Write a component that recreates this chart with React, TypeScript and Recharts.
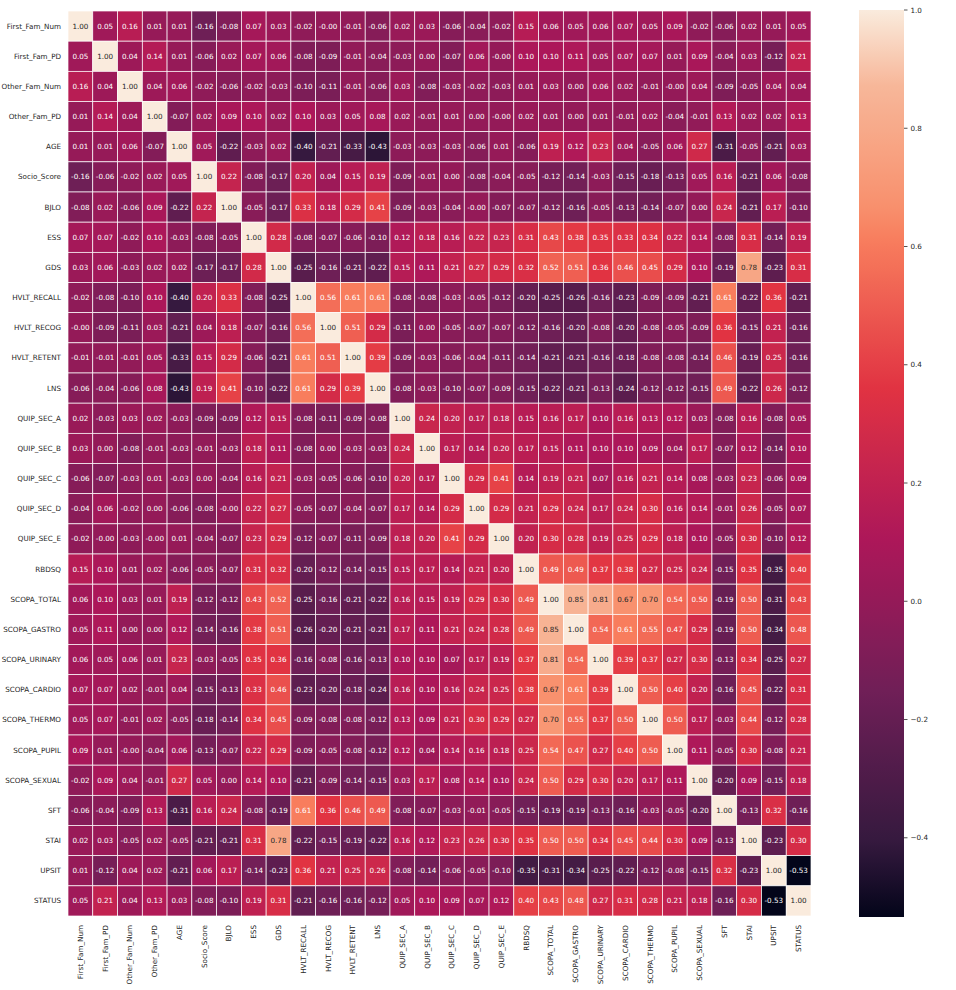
import { ScatterChart, Scatter, XAxis, YAxis, BarChart, Bar } from 'recharts';

const labels = [
  'First_Fam_Num', 'First_Fam_PD', 'Other_Fam_Num', 'Other_Fam_PD', 'AGE', 'Socio_Score', 'BJLO',
  'ESS', 'GDS', 'HVLT_RECALL', 'HVLT_RECOG', 'HVLT_RETENT', 'LNS', 'QUIP_SEC_A', 'QUIP_SEC_B',
  'QUIP_SEC_C', 'QUIP_SEC_D', 'QUIP_SEC_E', 'RBDSQ', 'SCOPA_TOTAL', 'SCOPA_GASTRO', 'SCOPA_URINARY',
  'SCOPA_CARDIO', 'SCOPA_THERMO', 'SCOPA_PUPIL', 'SCOPA_SEXUAL', 'SFT', 'STAI', 'UPSIT', 'STATUS',
];

// correlation rows (-0.001 keeps the "-0.00" labels)
const corr: number[][] = [
  [1.00, 0.05, 0.16, 0.01, 0.01, -0.16, -0.08, 0.07, 0.03, -0.02, -0.001, -0.01, -0.06, 0.02, 0.03, -0.06, -0.04, -0.02, 0.15, 0.06, 0.05, 0.06, 0.07, 0.05, 0.09, -0.02, -0.06, 0.02, 0.01, 0.05],
  [0.05, 1.00, 0.04, 0.14, 0.01, -0.06, 0.02, 0.07, 0.06, -0.08, -0.09, -0.01, -0.04, -0.03, 0.00, -0.07, 0.06, -0.001, 0.10, 0.10, 0.11, 0.05, 0.07, 0.07, 0.01, 0.09, -0.04, 0.03, -0.12, 0.21],
  [0.16, 0.04, 1.00, 0.04, 0.06, -0.02, -0.06, -0.02, -0.03, -0.10, -0.11, -0.01, -0.06, 0.03, -0.08, -0.03, -0.02, -0.03, 0.01, 0.03, 0.00, 0.06, 0.02, -0.01, -0.001, 0.04, -0.09, -0.05, 0.04, 0.04],
  [0.01, 0.14, 0.04, 1.00, -0.07, 0.02, 0.09, 0.10, 0.02, 0.10, 0.03, 0.05, 0.08, 0.02, -0.01, 0.01, 0.00, -0.001, 0.02, 0.01, 0.00, 0.01, -0.01, 0.02, -0.04, -0.01, 0.13, 0.02, 0.02, 0.13],
  [0.01, 0.01, 0.06, -0.07, 1.00, 0.05, -0.22, -0.03, 0.02, -0.40, -0.21, -0.33, -0.43, -0.03, -0.03, -0.03, -0.06, 0.01, -0.06, 0.19, 0.12, 0.23, 0.04, -0.05, 0.06, 0.27, -0.31, -0.05, -0.21, 0.03],
  [-0.16, -0.06, -0.02, 0.02, 0.05, 1.00, 0.22, -0.08, -0.17, 0.20, 0.04, 0.15, 0.19, -0.09, -0.01, 0.00, -0.08, -0.04, -0.05, -0.12, -0.14, -0.03, -0.15, -0.18, -0.13, 0.05, 0.16, -0.21, 0.06, -0.08],
  [-0.08, 0.02, -0.06, 0.09, -0.22, 0.22, 1.00, -0.05, -0.17, 0.33, 0.18, 0.29, 0.41, -0.09, -0.03, -0.04, -0.001, -0.07, -0.07, -0.12, -0.16, -0.05, -0.13, -0.14, -0.07, 0.00, 0.24, -0.21, 0.17, -0.10],
  [0.07, 0.07, -0.02, 0.10, -0.03, -0.08, -0.05, 1.00, 0.28, -0.08, -0.07, -0.06, -0.10, 0.12, 0.18, 0.16, 0.22, 0.23, 0.31, 0.43, 0.38, 0.35, 0.33, 0.34, 0.22, 0.14, -0.08, 0.31, -0.14, 0.19],
  [0.03, 0.06, -0.03, 0.02, 0.02, -0.17, -0.17, 0.28, 1.00, -0.25, -0.16, -0.21, -0.22, 0.15, 0.11, 0.21, 0.27, 0.29, 0.32, 0.52, 0.51, 0.36, 0.46, 0.45, 0.29, 0.10, -0.19, 0.78, -0.23, 0.31],
  [-0.02, -0.08, -0.10, 0.10, -0.40, 0.20, 0.33, -0.08, -0.25, 1.00, 0.56, 0.61, 0.61, -0.08, -0.08, -0.03, -0.05, -0.12, -0.20, -0.25, -0.26, -0.16, -0.23, -0.09, -0.09, -0.21, 0.61, -0.22, 0.36, -0.21],
  [-0.001, -0.09, -0.11, 0.03, -0.21, 0.04, 0.18, -0.07, -0.16, 0.56, 1.00, 0.51, 0.29, -0.11, 0.00, -0.05, -0.07, -0.07, -0.12, -0.16, -0.20, -0.08, -0.20, -0.08, -0.05, -0.09, 0.36, -0.15, 0.21, -0.16],
  [-0.01, -0.01, -0.01, 0.05, -0.33, 0.15, 0.29, -0.06, -0.21, 0.61, 0.51, 1.00, 0.39, -0.09, -0.03, -0.06, -0.04, -0.11, -0.14, -0.21, -0.21, -0.16, -0.18, -0.08, -0.08, -0.14, 0.46, -0.19, 0.25, -0.16],
  [-0.06, -0.04, -0.06, 0.08, -0.43, 0.19, 0.41, -0.10, -0.22, 0.61, 0.29, 0.39, 1.00, -0.08, -0.03, -0.10, -0.07, -0.09, -0.15, -0.22, -0.21, -0.13, -0.24, -0.12, -0.12, -0.15, 0.49, -0.22, 0.26, -0.12],
  [0.02, -0.03, 0.03, 0.02, -0.03, -0.09, -0.09, 0.12, 0.15, -0.08, -0.11, -0.09, -0.08, 1.00, 0.24, 0.20, 0.17, 0.18, 0.15, 0.16, 0.17, 0.10, 0.16, 0.13, 0.12, 0.03, -0.08, 0.16, -0.08, 0.05],
  [0.03, 0.00, -0.08, -0.01, -0.03, -0.01, -0.03, 0.18, 0.11, -0.08, 0.00, -0.03, -0.03, 0.24, 1.00, 0.17, 0.14, 0.20, 0.17, 0.15, 0.11, 0.10, 0.10, 0.09, 0.04, 0.17, -0.07, 0.12, -0.14, 0.10],
  [-0.06, -0.07, -0.03, 0.01, -0.03, 0.00, -0.04, 0.16, 0.21, -0.03, -0.05, -0.06, -0.10, 0.20, 0.17, 1.00, 0.29, 0.41, 0.14, 0.19, 0.21, 0.07, 0.16, 0.21, 0.14, 0.08, -0.03, 0.23, -0.06, 0.09],
  [-0.04, 0.06, -0.02, 0.00, -0.06, -0.08, -0.001, 0.22, 0.27, -0.05, -0.07, -0.04, -0.07, 0.17, 0.14, 0.29, 1.00, 0.29, 0.21, 0.29, 0.24, 0.17, 0.24, 0.30, 0.16, 0.14, -0.01, 0.26, -0.05, 0.07],
  [-0.02, -0.001, -0.03, -0.001, 0.01, -0.04, -0.07, 0.23, 0.29, -0.12, -0.07, -0.11, -0.09, 0.18, 0.20, 0.41, 0.29, 1.00, 0.20, 0.30, 0.28, 0.19, 0.25, 0.29, 0.18, 0.10, -0.05, 0.30, -0.10, 0.12],
  [0.15, 0.10, 0.01, 0.02, -0.06, -0.05, -0.07, 0.31, 0.32, -0.20, -0.12, -0.14, -0.15, 0.15, 0.17, 0.14, 0.21, 0.20, 1.00, 0.49, 0.49, 0.37, 0.38, 0.27, 0.25, 0.24, -0.15, 0.35, -0.35, 0.40],
  [0.06, 0.10, 0.03, 0.01, 0.19, -0.12, -0.12, 0.43, 0.52, -0.25, -0.16, -0.21, -0.22, 0.16, 0.15, 0.19, 0.29, 0.30, 0.49, 1.00, 0.85, 0.81, 0.67, 0.70, 0.54, 0.50, -0.19, 0.50, -0.31, 0.43],
  [0.05, 0.11, 0.00, 0.00, 0.12, -0.14, -0.16, 0.38, 0.51, -0.26, -0.20, -0.21, -0.21, 0.17, 0.11, 0.21, 0.24, 0.28, 0.49, 0.85, 1.00, 0.54, 0.61, 0.55, 0.47, 0.29, -0.19, 0.50, -0.34, 0.48],
  [0.06, 0.05, 0.06, 0.01, 0.23, -0.03, -0.05, 0.35, 0.36, -0.16, -0.08, -0.16, -0.13, 0.10, 0.10, 0.07, 0.17, 0.19, 0.37, 0.81, 0.54, 1.00, 0.39, 0.37, 0.27, 0.30, -0.13, 0.34, -0.25, 0.27],
  [0.07, 0.07, 0.02, -0.01, 0.04, -0.15, -0.13, 0.33, 0.46, -0.23, -0.20, -0.18, -0.24, 0.16, 0.10, 0.16, 0.24, 0.25, 0.38, 0.67, 0.61, 0.39, 1.00, 0.50, 0.40, 0.20, -0.16, 0.45, -0.22, 0.31],
  [0.05, 0.07, -0.01, 0.02, -0.05, -0.18, -0.14, 0.34, 0.45, -0.09, -0.08, -0.08, -0.12, 0.13, 0.09, 0.21, 0.30, 0.29, 0.27, 0.70, 0.55, 0.37, 0.50, 1.00, 0.50, 0.17, -0.03, 0.44, -0.12, 0.28],
  [0.09, 0.01, -0.001, -0.04, 0.06, -0.13, -0.07, 0.22, 0.29, -0.09, -0.05, -0.08, -0.12, 0.12, 0.04, 0.14, 0.16, 0.18, 0.25, 0.54, 0.47, 0.27, 0.40, 0.50, 1.00, 0.11, -0.05, 0.30, -0.08, 0.21],
  [-0.02, 0.09, 0.04, -0.01, 0.27, 0.05, 0.00, 0.14, 0.10, -0.21, -0.09, -0.14, -0.15, 0.03, 0.17, 0.08, 0.14, 0.10, 0.24, 0.50, 0.29, 0.30, 0.20, 0.17, 0.11, 1.00, -0.20, 0.09, -0.15, 0.18],
  [-0.06, -0.04, -0.09, 0.13, -0.31, 0.16, 0.24, -0.08, -0.19, 0.61, 0.36, 0.46, 0.49, -0.08, -0.07, -0.03, -0.01, -0.05, -0.15, -0.19, -0.19, -0.13, -0.16, -0.03, -0.05, -0.20, 1.00, -0.13, 0.32, -0.16],
  [0.02, 0.03, -0.05, 0.02, -0.05, -0.21, -0.21, 0.31, 0.78, -0.22, -0.15, -0.19, -0.22, 0.16, 0.12, 0.23, 0.26, 0.30, 0.35, 0.50, 0.50, 0.34, 0.45, 0.44, 0.30, 0.09, -0.13, 1.00, -0.23, 0.30],
  [0.01, -0.12, 0.04, 0.02, -0.21, 0.06, 0.17, -0.14, -0.23, 0.36, 0.21, 0.25, 0.26, -0.08, -0.14, -0.06, -0.05, -0.10, -0.35, -0.31, -0.34, -0.25, -0.22, -0.12, -0.08, -0.15, 0.32, -0.23, 1.00, -0.534],
  [0.05, 0.21, 0.04, 0.13, 0.03, -0.08, -0.10, 0.19, 0.31, -0.21, -0.16, -0.16, -0.12, 0.05, 0.10, 0.09, 0.07, 0.12, 0.40, 0.43, 0.48, 0.27, 0.31, 0.28, 0.21, 0.18, -0.16, 0.30, -0.534, 1.00],
];

const cbTicks = [-0.4, -0.2, 0.0, 0.2, 0.4, 0.6, 0.8, 1.0];

// seaborn "rocket" colormap, sampled (upper end tuned to the picture)
const rocket: [number, string][] = [
  [0, '#03051a'],
  [1 / 12, '#35193e'],
  [3 / 12, '#701f57'],
  [5 / 12, '#ad1759'],
  [7 / 12, '#e13342'],
  [0.746, '#f87d5d'],
  [0.785, '#f8916e'],
  [11 / 12, '#f7b799'],
  [1, '#faebdd'],
];

const VMIN = Math.min(...corr.flat());
const VMAX = 1;

const FONT = 'DejaVu Sans, sans-serif';
const W = 830;
const H = 990;
const M = { top: 11, right: 19 };
const YW = 68;
const XH = 74;
const CELL_W = (W - YW - M.right) / labels.length;
const CELL_H = (H - M.top - XH) / labels.length;

const hex = (s: string) => [1, 3, 5].map((i) => parseInt(s.slice(i, i + 2), 16));

function colorAt(t: number): number[] {
  t = Math.max(0, Math.min(1, t));
  for (let i = 1; i < rocket.length; i++) {
    if (t <= rocket[i][0]) {
      const [t0, c0] = rocket[i - 1];
      const [t1, c1] = rocket[i];
      const f = (t - t0) / (t1 - t0);
      const a = hex(c0);
      const b = hex(c1);
      return a.map((v, k) => Math.round(v + (b[k] - v) * f));
    }
  }
  return hex(rocket[rocket.length - 1][1]);
}

const rgb = (c: number[]) => `rgb(${c[0]},${c[1]},${c[2]})`;

function luminance(c: number[]) {
  const lin = c.map((v) => {
    const s = v / 255;
    return s <= 0.03928 ? s / 12.92 : Math.pow((s + 0.055) / 1.055, 2.4);
  });
  return 0.2126 * lin[0] + 0.7152 * lin[1] + 0.0722 * lin[2];
}

const cells = corr.flatMap((row, r) =>
  row.map((v, c) => ({ x: c + 0.5, y: r + 0.5, v }))
);

const centers = labels.map((_, i) => i + 0.5);

const Cell = (props: any) => {
  const { cx, cy, payload } = props;
  const col = colorAt((payload.v - VMIN) / (VMAX - VMIN));
  const txt = luminance(col) > 0.408 ? '#262626' : '#ffffff';
  return (
    <g>
      <rect
        x={cx - CELL_W / 2}
        y={cy - CELL_H / 2}
        width={CELL_W}
        height={CELL_H}
        fill={rgb(col)}
        stroke="#ffffff"
        strokeWidth={0.7}
      />
      <text
        x={cx}
        y={cy}
        textAnchor="middle"
        dominantBaseline="central"
        fontSize={7.2}
        fontFamily={FONT}
        fill={txt}
      >
        {payload.v.toFixed(2)}
      </text>
    </g>
  );
};

const XTick = (props: any) => {
  const { x, y, payload } = props;
  const ty = y + 7;
  return (
    <text
      x={x}
      y={ty}
      transform={`rotate(-90 ${x} ${ty})`}
      textAnchor="end"
      dy="0.35em"
      fontSize={7.2}
      fontFamily={FONT}
      fill="#262626"
    >
      {labels[Math.floor(payload.value)]}
    </text>
  );
};

export default function App() {
  const stops = Array.from({ length: 61 }, (_, i) => i / 60);
  return (
    <div style={{ position: 'absolute', left: 0, top: 0, width: 956, height: 990, background: '#fff' }}>
      <svg width={0} height={0} style={{ position: 'absolute' }}>
        <defs>
          <linearGradient id="rocketGrad" x1="0" y1="0" x2="0" y2="1">
            {stops.map((s) => (
              <stop key={s} offset={s} stopColor={rgb(colorAt(1 - s))} />
            ))}
          </linearGradient>
        </defs>
      </svg>
      <div style={{ position: 'absolute', left: 0, top: 0 }}>
        <ScatterChart width={W} height={H} margin={{ top: M.top, right: M.right, left: 0, bottom: 0 }}>
          <XAxis
            type="number"
            dataKey="x"
            domain={[0, labels.length]}
            ticks={centers}
            interval={0}
            axisLine={false}
            tickLine={false}
            tickSize={0}
            height={XH}
            tick={<XTick />}
          />
          <YAxis
            type="number"
            dataKey="y"
            domain={[0, labels.length]}
            reversed
            ticks={centers}
            interval={0}
            axisLine={false}
            tickLine={false}
            tickSize={0}
            tickMargin={7}
            width={YW}
            tickFormatter={(v: number) => labels[Math.floor(v)]}
            tick={{ fontSize: 7.2, fontFamily: FONT, fill: '#262626' }}
          />
          <Scatter data={cells} shape={<Cell />} isAnimationActive={false} />
        </ScatterChart>
      </div>
      <div style={{ position: 'absolute', left: W, top: 0 }}>
        <BarChart
          width={126}
          height={H}
          data={[{ k: 'cb', span: [VMIN, VMAX] }]}
          margin={{ top: 10, right: 0, left: 29, bottom: 73 }}
          barCategoryGap={0}
        >
          <XAxis dataKey="k" hide />
          <YAxis
            orientation="right"
            domain={[VMIN, VMAX]}
            ticks={cbTicks}
            allowDataOverflow
            axisLine={false}
            tickSize={3.5}
            tickMargin={3}
            width={52}
            tickLine={{ stroke: '#262626', strokeWidth: 0.8 }}
            tickFormatter={(v: number) => v.toFixed(1).replace('-', '\u2212')}
            tick={{ fontSize: 7.2, fontFamily: FONT, fill: '#262626', textAnchor: 'start' }}
          />
          <Bar dataKey="span" fill="url(#rocketGrad)" isAnimationActive={false} />
        </BarChart>
      </div>
    </div>
  );
}
